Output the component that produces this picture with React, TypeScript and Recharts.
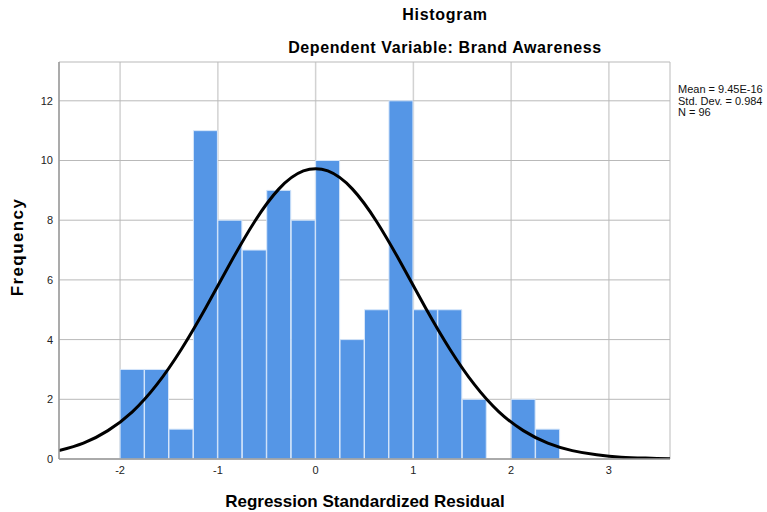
import { Bar, CartesianGrid, ComposedChart, Line, XAxis, YAxis } from 'recharts';

// bin midpoints (bin width 0.25) over the whole visible x range
const residualX = [
    -2.625, -2.375, -2.125, -1.875, -1.625, -1.375, -1.125, -0.875, -0.625, -0.375, -0.125, 0.125, 0.375,
    0.625, 0.875, 1.125, 1.375, 1.625, 1.875, 2.125, 2.375, 2.625, 2.875, 3.125, 3.375, 3.625,
];
const frequency = [
    null, null, null, 3, 3, 1, 11, 8, 7, 9, 8, 10, 4, 5, 12, 5, 5, 2, 0, 2, 1, null, null, null, null, null,
];
const normalCurve = [
    0.28, 0.53, 0.95, 1.58, 2.49, 3.67, 5.06, 6.55, 7.95, 9.05, 9.65, 9.65, 9.05, 7.95, 6.55, 5.06, 3.67,
    2.49, 1.58, 0.95, 0.53, 0.28, 0.14, 0.06, 0.03, 0.01,
];
const xTicks = [-2, -1, 0, 1, 2, 3];
const yTicks = [0, 2, 4, 6, 8, 10, 12];
const stats = ['Mean = 9.45E-16', 'Std. Dev. = 0.984', 'N = 96'];

const data = residualX.map((x, i) => ({ x, count: frequency[i], curve: normalCurve[i] }));

const font = '"Liberation Sans", Arial, sans-serif';

export default function App() {
    return (
        <div style={{ position: 'absolute', left: 0, top: 0, width: 767, height: 512, fontFamily: font }}>
            <div
                style={{
                    position: 'absolute',
                    left: 245,
                    width: 400,
                    top: 6,
                    textAlign: 'center',
                    fontWeight: 'bold',
                    fontSize: 16,
                    letterSpacing: 0.7,
                }}
            >
                Histogram
            </div>
            <div
                style={{
                    position: 'absolute',
                    left: 245,
                    width: 400,
                    top: 39,
                    textAlign: 'center',
                    fontWeight: 'bold',
                    fontSize: 16,
                    letterSpacing: 0.6,
                }}
            >
                Dependent Variable: Brand Awareness
            </div>
            <div style={{ position: 'absolute', left: 678, top: 84, fontSize: 11, lineHeight: '11.5px', color: '#111' }}>
                {stats.map((s) => (
                    <div key={s}>{s}</div>
                ))}
            </div>
            <div
                style={{
                    position: 'absolute',
                    left: 18,
                    top: 247,
                    transform: 'translate(-50%, -50%) rotate(-90deg)',
                    fontWeight: 'bold',
                    fontSize: 17,
                    letterSpacing: 1.4,
                    whiteSpace: 'nowrap',
                }}
            >
                Frequency
            </div>
            <div
                style={{
                    position: 'absolute',
                    left: 165,
                    width: 400,
                    top: 492,
                    textAlign: 'center',
                    fontWeight: 'bold',
                    fontSize: 17,
                    whiteSpace: 'nowrap',
                }}
            >
                Regression Standardized Residual
            </div>

            <ComposedChart
                width={767}
                height={512}
                data={data}
                margin={{ top: 62, right: 97, bottom: 23, left: 29 }}
                barCategoryGap={0}
                barGap={0}
                style={{ position: 'absolute', left: 0, top: 0 }}
            >
                <CartesianGrid stroke="#d2d2d2" strokeWidth={1.5} horizontal={false} />
                <CartesianGrid stroke="#b9b9b9" vertical={false} />
                <XAxis
                    dataKey="x"
                    type="number"
                    domain={[-2.625, 3.625]}
                    ticks={xTicks}
                    allowDataOverflow
                    height={30}
                    axisLine={{ stroke: '#9a9a9a', strokeWidth: 1.5 }}
                    tickLine={false}
                    tickSize={5}
                    tick={{ fill: '#222', fontSize: 11, fontFamily: font }}
                />
                <YAxis
                    domain={[0, 13.3]}
                    ticks={yTicks}
                    allowDataOverflow
                    width={30}
                    axisLine={{ stroke: '#9a9a9a', strokeWidth: 1.5 }}
                    tickLine={false}
                    tickSize={4}
                    tickMargin={2}
                    tick={{ fill: '#222', fontSize: 11, fontFamily: font }}
                />
                <Bar dataKey="count" fill="#5596e6" stroke="#d6e6fa" strokeWidth={1} isAnimationActive={false} />
                <Line
                    dataKey="curve"
                    type="natural"
                    stroke="#000"
                    strokeWidth={3}
                    dot={false}
                    activeDot={false}
                    isAnimationActive={false}
                />
            </ComposedChart>
        </div>
    );
}
